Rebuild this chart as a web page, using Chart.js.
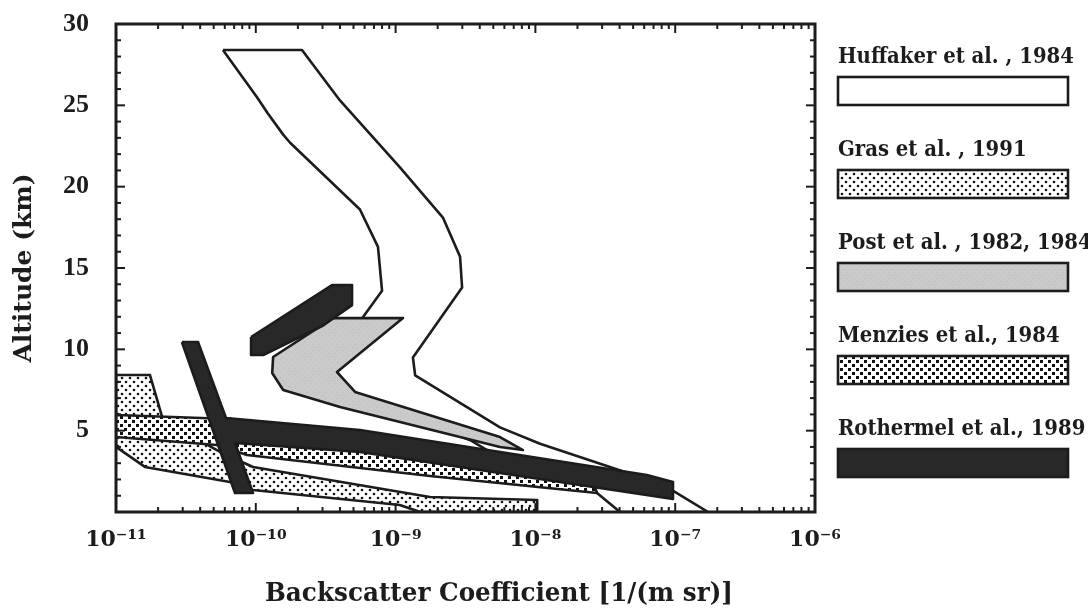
<!DOCTYPE html>
<html><head><meta charset="utf-8">
<script src="https://cdn.jsdelivr.net/npm/chart.js@4.4.0/dist/chart.umd.min.js"></script>
<style>html,body{margin:0;padding:0;background:#fff}</style>
</head><body>
<canvas id="c" width="1088" height="610"></canvas>
<script>
// ---------- DATA ----------
const seriesNames = ['Huffaker et al. , 1984','Gras et al. , 1991','Post et al. , 1982, 1984','Menzies et al., 1984','Rothermel et al., 1989'];
const xTitle = 'Backscatter Coefficient [1/(m sr)]';
const yTitle = 'Altitude (km)';
const xTickValues = [1e-11,1e-10,1e-9,1e-8,1e-7,1e-6];
const xTickLabels = ['10\u207B\u00B9\u00B9','10\u207B\u00B9\u2070','10\u207B\u2079','10\u207B\u2078','10\u207B\u2077','10\u207B\u2076'];
const yTickValues = [5,10,15,20,25,30];
const yTickLabels = ['5','10','15','20','25','30'];

// polygon outlines: backscatter [1/(m sr)] and altitude [km]
const huffakerBeta = [5.82e-11,2.14e-10,4.0e-10,1.07e-9,2.18e-9,2.89e-9,2.99e-9,1.33e-9,1.38e-9,5.58e-9,1.08e-8,5.60e-8,9.48e-8,1.72e-7,4.03e-8,2.76e-8,4.73e-9,3.40e-9,5.13e-10,3.81e-10,5.75e-10,8.0e-10,7.48e-10,5.56e-10,1.76e-10,1.57e-10,1.22e-10,1.02e-10,5.82e-11];
const huffakerAlt  = [28.4,28.4,25.3,21.2,18.1,15.7,13.8,9.5,8.4,5.2,4.2,2.15,1.35,0,0,1.17,3.69,4.43,7.2,8.6,11.9,13.6,16.3,18.6,22.7,23.2,24.5,25.5,28.4];

const grasBeta = [1e-11,1.75e-11,2.17e-11,5.55e-11,9.55e-11,1.76e-9,1.03e-8,1.03e-8,1.50e-9,1.07e-9,9.55e-11,6.53e-11,1.61e-11,1e-11,1e-11];
const grasAlt  = [8.42,8.42,5.65,3.69,2.77,0.92,0.74,0,0,0.43,1.35,1.84,2.77,4.0,8.42];

const postBeta = [3.56e-10,1.13e-9,3.81e-10,5.13e-10,5.58e-9,8.15e-9,5.58e-9,4.0e-10,1.57e-10,1.31e-10,1.33e-10,3.56e-10];
const postAlt  = [11.92,11.92,8.6,7.38,4.61,3.81,4.0,6.45,7.5,8.54,9.53,11.92];

const menziesBeta = [1e-11,6.53e-11,5.56e-10,2.46e-8,2.76e-8,1.76e-9,8.65e-11,5.27e-11,1e-11,1e-11];
const menziesAlt  = [5.96,5.72,4.73,2.34,1.17,2.21,3.5,4.12,4.61,5.96];

const rothUpperBeta = [9.25e-11,3.51e-10,4.88e-10,4.88e-10,2.98e-10,1.13e-10,9.25e-11,9.25e-11];
const rothUpperAlt  = [10.76,13.95,13.95,12.72,11.43,9.65,9.65,10.76];

const rothMainBeta = [2.96e-11,3.86e-11,6.12e-11,5.56e-10,6.28e-8,9.64e-8,9.64e-8,5.56e-10,7.10e-11,9.55e-11,7.10e-11,2.96e-11];
const rothMainAlt  = [10.45,10.45,5.78,5.04,2.27,1.84,0.80,3.69,4.24,1.17,1.17,10.45];

// ---------- STYLE ----------
const FONT = "'DejaVu Serif', 'Liberation Serif', serif";
const TICKFONT = "'Liberation Serif', 'DejaVu Serif', serif";
const INK = '#1c1c1c';

function makePattern(kind){
  const c = document.createElement('canvas');
  const g = c.getContext('2d');
  if (kind === 'dots'){
    c.width = 8; c.height = 8;
    g.fillStyle = '#fff'; g.fillRect(0,0,8,8);
    g.fillStyle = '#111';
    g.beginPath(); g.arc(2,2,1.3,0,Math.PI*2); g.fill();
    g.beginPath(); g.arc(6,6,1.3,0,Math.PI*2); g.fill();
  } else if (kind === 'squares'){
    c.width = 8; c.height = 8;
    g.fillStyle = '#fff'; g.fillRect(0,0,8,8);
    g.fillStyle = '#111';
    g.fillRect(0,0,3,3); g.fillRect(4,4,3,3);
  } else if (kind === 'gray'){
    c.width = 6; c.height = 6;
    g.fillStyle = '#cacaca'; g.fillRect(0,0,6,6);
    g.fillStyle = '#bdbdbd'; g.fillRect(1,2,1,1); g.fillRect(4,5,1,1);
  }
  return document.getElementById('c').getContext('2d').createPattern(c,'repeat');
}
const fills = ['#ffffff', makePattern('dots'), makePattern('gray'), makePattern('squares'), '#282828'];

function pts(xs, ys){ return xs.map((v,i)=>({x:v, y:ys[i]})); }
function ds(idx, xs, ys, order){
  return {label: seriesNames[idx], data: pts(xs,ys), backgroundColor: fills[idx],
    borderColor: INK, borderWidth: 2.6, fill: 'shape', order: order,
    pointRadius: 0, tension: 0, borderJoinStyle: 'round'};
}

const frameTicks = {
  id: 'frameTicks',
  afterDatasetsDraw(chart){
    const {ctx, chartArea: a, scales: {x, y}} = chart;
    ctx.save();
    ctx.strokeStyle = INK; ctx.lineWidth = 2;
    const seg = (x1,y1,x2,y2)=>{ctx.beginPath();ctx.moveTo(x1,y1);ctx.lineTo(x2,y2);ctx.stroke();};
    for (let v = 0; v <= 30; v++){
      const py = y.getPixelForValue(v);
      const len = v % 5 === 0 ? 9 : 5;
      seg(a.left, py, a.left+len, py); seg(a.right, py, a.right-len, py);
    }
    for (let e = -11; e < -6; e++){
      for (let m = 1; m < 10; m++){
        const px = x.getPixelForValue(m*Math.pow(10,e));
        const len = m === 1 ? 9 : 5;
        seg(px, a.top, px, a.top+len); seg(px, a.bottom, px, a.bottom-len);
      }
    }
    ctx.lineWidth = 3;
    ctx.strokeRect(a.left, a.top, a.right-a.left, a.bottom-a.top);
    ctx.restore();
  },
  afterDraw(chart){
    const {ctx} = chart;
    ctx.save();
    // x axis title
    ctx.fillStyle = INK;
    ctx.font = "bold 26px " + FONT;
    ctx.textAlign = 'center'; ctx.textBaseline = 'alphabetic';
    ctx.fillText(xTitle, 499, 601, 468);
    // legend
    ctx.font = "bold 22px " + FONT;
    ctx.textAlign = 'left';
    const k = 236 / ctx.measureText(seriesNames[0]).width;
    for (let i = 0; i < seriesNames.length; i++){
      const base = 63 + i*93;
      ctx.fillStyle = INK;
      ctx.fillText(seriesNames[i], 838, base, ctx.measureText(seriesNames[i]).width * k);
      const top = base + 14;
      ctx.fillStyle = fills[i];
      ctx.fillRect(838, top, 230, 28);
      ctx.strokeStyle = INK; ctx.lineWidth = 2.6;
      ctx.strokeRect(838, top, 230, 28);
    }
    ctx.restore();
  }
};

new Chart(document.getElementById('c'), {
  type: 'line',
  data: { datasets: [
    ds(0, huffakerBeta, huffakerAlt, 5),
    ds(1, grasBeta, grasAlt, 4),
    ds(3, menziesBeta, menziesAlt, 3),
    ds(2, postBeta, postAlt, 2),
    ds(4, rothUpperBeta, rothUpperAlt, 1),
    ds(4, rothMainBeta, rothMainAlt, 0)
  ]},
  options: {
    responsive: false, animation: false, devicePixelRatio: 1,
    layout: { padding: { top: 24, right: 273, left: 0, bottom: 0 } },
    plugins: { legend: { display: false }, tooltip: { enabled: false } },
    scales: {
      x: {
        type: 'logarithmic', min: 1e-11, max: 1e-6, position: 'bottom',
        grid: { display: false, drawTicks: false }, border: { display: false },
        afterBuildTicks: s => { s.ticks = xTickValues.map(v => ({value: v})); },
        afterFit: s => { s.height = 98; s.paddingLeft = 0; s.paddingRight = 0; },
        ticks: { autoSkip: false, maxRotation: 0, padding: 15, color: INK,
          font: { family: FONT, size: 22, weight: 'bold' },
          callback: (v, i) => xTickLabels[i] }
      },
      y: {
        type: 'linear', min: 0, max: 30,
        grid: { display: false, drawTicks: false }, border: { display: false },
        afterBuildTicks: s => { s.ticks = yTickValues.map(v => ({value: v})); },
        afterFit: s => { s.width = 116; s.paddingTop = 0; s.paddingBottom = 0; },
        ticks: { padding: 27, color: INK, font: { family: TICKFONT, size: 26, weight: 'bold' },
          callback: (v, i) => yTickLabels[i] },
        title: { display: true, text: yTitle, color: INK, padding: { top: 9, bottom: 9 },
          font: { family: FONT, size: 25, weight: 'bold' } }
      }
    }
  },
  plugins: [frameTicks]
});
</script>
</body></html>
